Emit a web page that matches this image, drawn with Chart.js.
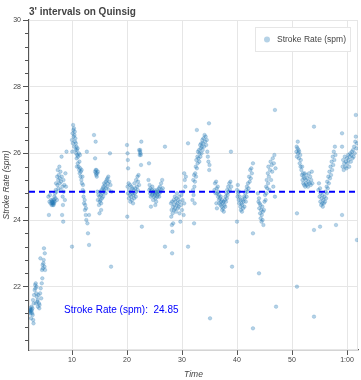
<!DOCTYPE html>
<html><head><meta charset="utf-8">
<script src="https://cdn.jsdelivr.net/npm/chart.js@4.4.1/dist/chart.umd.min.js"></script>
<style>html,body{margin:0;padding:0;background:#fff;}canvas{display:block;}</style>
</head><body>
<canvas id="c" width="361" height="380"></canvas>
<script>
const chartTitle = "3' intervals on Quinsig";
const seriesName = "Stroke Rate (spm)";
const xTitle = "Time";
const yTitle = "Stroke Rate (spm)";
const meanRate = 24.85;
const meanLabel = "Stroke Rate (spm):  24.85";
const meanLabelAt = [8.55, 21.3];
const xRange = [2.18, 62.0];
const yRange = [20.1, 30];
const xTickValues = [10, 20, 30, 40, 50, 60];
const xTickLabels = ['10', '20', '30', '40', '50', '1:00'];
const yMajorTicks = [22, 24, 26, 28, 30];
const yMinorStep = 0.4;

// [time (min), stroke rate (spm)]
const warmup = [[2.3,21.3],[2.35,21.25],[2.4,21.35],[2.45,21.2],[2.5,21.3],[2.55,21.05],[2.6,21.25],[2.65,21.4],[2.7,21.3],[2.75,21.2],[2.8,21.35],[2.85,21.15],[2.9,21.6],[2.95,21.0],[3.0,20.9],[3.05,21.5],[3.1,21.75],[3.2,21.9],[3.3,22.05],[3.35,21.95],[3.4,22.1],[3.45,21.5],[3.5,21.8],[3.55,22.0],[3.6,21.7],[3.7,21.55],[3.75,21.6],[3.8,21.4],[3.9,21.75],[4.0,21.5],[4.05,21.35],[4.1,21.45],[4.2,21.8],[4.25,22.85],[4.3,21.95],[4.4,21.65],[4.5,22.1],[4.55,22.5],[4.6,22.25],[4.65,22.65],[4.7,22.55],[4.8,22.7],[4.85,22.8],[4.9,23.15],[5.0,22.6],[5.05,23.0],[5.1,22.5]];
const piece1 = [[5.7,24.7],[5.8,24.15],[5.9,24.55],[6.0,24.75],[6.1,24.5],[6.2,24.6],[6.3,24.45],[6.35,24.55],[6.4,24.5],[6.45,24.6],[6.5,24.45],[6.55,24.5],[6.6,24.55],[6.65,24.45],[6.7,24.6],[6.75,24.5],[6.8,24.7],[6.85,24.55],[6.9,24.8],[7.0,24.65],[7.05,24.9],[7.1,25.1],[7.2,24.85],[7.25,24.6],[7.3,25.3],[7.35,25.05],[7.4,25.5],[7.5,25.2],[7.55,24.95],[7.6,25.35],[7.7,25.6],[7.75,25.1],[7.8,25.25],[7.9,25.45],[7.95,24.9],[8.0,25.15],[8.1,25.9],[8.15,25.3],[8.2,24.15],[8.25,25.0],[8.3,24.7],[8.35,24.45],[8.4,23.95],[8.45,25.2],[8.5,24.85],[8.6,25.05],[8.7,24.6],[8.8,25.4],[8.9,25.0],[9.0,26.05]];
const piece2 = [[10.0,26.4],[10.05,26.05],[10.1,26.6],[10.15,26.3],[10.2,26.85],[10.25,26.7],[10.3,26.5],[10.35,26.75],[10.4,26.2],[10.45,26.55],[10.5,26.65],[10.55,26.35],[10.6,26.45],[10.65,26.1],[10.7,26.3],[10.75,26.0],[10.8,26.2],[10.85,25.85],[10.9,26.1],[10.9,25.6],[10.95,25.95],[11.0,26.15],[11.05,25.7],[11.1,25.9],[11.2,25.6],[11.25,26.0],[11.3,25.5],[11.35,25.75],[11.4,25.4],[11.45,25.95],[11.5,25.55],[11.55,25.3],[11.6,25.45],[11.7,25.2],[11.75,25.5],[11.8,25.1],[11.9,25.3],[11.95,24.9],[12.0,25.05],[12.1,24.7],[12.15,24.85],[12.2,24.5],[12.3,24.6],[12.35,24.3],[12.4,24.45],[12.5,24.15],[12.55,24.35],[12.6,24.0],[12.7,26.05],[12.8,23.9],[12.9,23.6],[13.1,23.25],[13.1,24.15],[10.0,23.2]];
const piece3 = [[14.0,26.55],[14.3,26.35],[14.2,25.85],[14.2,25.45],[14.3,25.5],[14.35,25.4],[14.4,25.35],[14.45,25.5],[14.5,25.3],[14.6,25.4],[14.7,25.45],[14.6,24.85],[14.7,24.6],[14.8,24.75],[14.9,24.45],[15.0,24.7],[15.0,24.2],[15.05,24.55],[15.1,24.85],[15.2,24.6],[15.25,24.75],[15.3,24.5],[15.3,24.3],[15.4,24.9],[15.45,24.65],[15.5,24.8],[15.6,24.95],[15.65,24.7],[15.7,25.0],[15.8,24.85],[15.85,25.1],[15.9,24.9],[16.0,25.05],[16.1,24.8],[16.15,25.15],[16.2,24.95],[16.3,25.2],[16.4,25.0],[16.45,25.25],[16.5,25.1],[16.6,25.3],[16.7,24.9],[16.8,25.15],[16.9,26.0],[17.0,25.05],[17.2,24.85]];
const piece4 = [[20.0,26.25],[20.1,26.0],[20.15,25.8],[20.2,25.55],[20.05,24.1],[20.1,25.0],[20.2,24.8],[20.3,25.1],[20.35,24.65],[20.4,24.9],[20.5,24.75],[20.55,25.05],[20.6,24.55],[20.7,24.85],[20.75,24.7],[20.8,25.0],[20.9,24.6],[20.95,24.8],[21.0,24.95],[21.1,24.5],[21.15,24.75],[21.2,24.9],[21.3,24.65],[21.35,25.1],[21.4,24.8],[21.5,24.95],[21.6,24.7],[21.65,25.2],[21.7,24.85],[21.8,25.0],[21.9,25.3],[21.95,24.9],[22.0,25.15],[22.1,25.35],[22.2,25.05],[22.2,26.1],[22.3,25.95],[22.35,26.05],[22.4,26.1],[22.45,26.0],[22.5,25.95],[22.55,25.65],[22.6,26.35],[22.7,23.8]];
const piece5 = [[23.9,25.2],[24.0,25.7],[24.05,24.9],[24.1,25.05],[24.2,24.8],[24.25,24.95],[24.3,24.7],[24.35,24.4],[24.4,24.85],[24.5,24.9],[24.55,24.75],[24.6,25.0],[24.7,24.8],[24.75,24.6],[24.8,24.85],[24.9,24.7],[25.0,24.9],[25.05,24.75],[25.1,24.8],[25.15,24.45],[25.2,24.65],[25.25,24.85],[25.3,24.55],[25.4,24.8],[25.5,24.7],[25.55,24.9],[25.6,24.75],[25.7,24.85],[25.8,24.95],[25.85,24.7],[25.9,24.8],[26.0,25.0],[26.1,24.85],[26.2,25.1],[26.3,24.9],[26.4,25.2],[26.5,24.95],[26.9,26.2],[26.9,23.2],[28.2,23.0]];
const piece6 = [[28.0,24.5],[28.05,24.1],[28.1,24.3],[28.15,23.85],[28.2,24.55],[28.25,23.65],[28.3,24.2],[28.35,24.4],[28.4,23.9],[28.5,24.6],[28.55,24.3],[28.6,24.45],[28.7,24.7],[28.75,24.35],[28.8,24.55],[28.9,24.25],[29.0,24.65],[29.05,24.45],[29.1,24.8],[29.2,24.5],[29.25,24.35],[29.3,24.6],[29.4,24.4],[29.5,24.7],[29.55,24.2],[29.6,24.55],[29.7,23.95],[29.8,24.45],[29.9,24.75],[30.0,24.3],[30.1,24.6],[30.2,24.85],[30.3,24.15],[30.4,24.5],[30.4,25.4],[30.5,25.2],[30.6,25.0],[30.7,25.3],[31.1,26.3],[31.1,23.2]];
const piece7 = [[31.9,24.6],[32.0,24.9],[32.05,25.2],[32.1,24.75],[32.2,25.35],[32.2,23.9],[32.25,25.0],[32.3,24.5],[32.35,25.15],[32.4,25.4],[32.5,25.6],[32.55,25.3],[32.6,25.8],[32.7,26.7],[32.7,25.55],[32.8,25.9],[32.85,25.7],[32.9,26.05],[33.0,25.85],[33.1,26.1],[33.15,25.75],[33.2,26.0],[33.3,26.25],[33.35,25.9],[33.4,26.15],[33.5,26.3],[33.55,26.0],[33.6,26.2],[33.7,26.4],[33.75,26.1],[33.8,26.3],[33.9,26.45],[34.0,26.2],[34.1,26.55],[34.2,26.35],[34.3,26.5],[34.4,26.25],[34.5,26.4],[34.6,26.05],[34.7,25.9],[34.8,25.75],[34.9,26.9],[34.95,25.5],[35.0,25.65],[35.1,21.05]];
const piece8 = [[35.9,24.9],[36.0,25.1],[36.1,24.8],[36.2,25.15],[36.25,24.5],[36.3,24.95],[36.35,24.35],[36.4,24.8],[36.5,25.0],[36.55,24.7],[36.6,24.85],[36.7,24.6],[36.75,24.75],[36.8,24.5],[36.9,24.65],[37.0,24.45],[37.05,24.7],[37.1,24.55],[37.2,24.4],[37.25,24.6],[37.3,24.3],[37.4,24.5],[37.5,24.35],[37.55,24.55],[37.6,24.25],[37.7,24.45],[37.8,24.6],[37.85,24.4],[37.9,24.7],[38.0,24.55],[38.1,24.8],[38.15,24.65],[38.2,24.9],[38.3,24.75],[38.4,25.0],[38.5,24.85],[38.6,25.1],[38.7,24.9],[38.8,25.15],[38.9,26.05],[38.95,25.0],[39.1,22.6]];
const piece9 = [[40.0,24.9],[40.1,24.7],[40.15,25.05],[40.2,24.8],[40.3,24.6],[40.35,24.85],[40.4,24.5],[40.5,24.7],[40.6,24.4],[40.65,24.6],[40.7,24.3],[40.8,24.5],[40.9,24.25],[40.95,24.45],[41.0,24.6],[41.1,24.35],[41.2,24.55],[41.3,24.7],[41.35,24.4],[41.4,24.65],[41.5,24.8],[41.6,24.55],[41.7,24.9],[41.75,24.7],[41.8,25.0],[41.9,24.85],[42.0,25.1],[42.1,24.95],[42.2,25.3],[42.3,25.15],[42.4,25.5],[42.5,25.25],[42.6,25.55],[42.7,25.4],[42.9,25.7],[40.0,23.95],[40.0,23.35],[42.9,23.6],[42.9,20.75]];
const piece10 = [[43.8,24.8],[43.9,24.55],[44.0,24.65],[44.05,24.35],[44.1,24.5],[44.2,24.2],[44.25,24.45],[44.3,24.05],[44.4,24.3],[44.45,23.95],[44.5,24.15],[44.6,24.4],[44.65,24.0],[44.7,24.25],[44.8,23.85],[44.9,24.3],[45.0,24.55],[45.1,24.75],[45.2,24.6],[45.3,25.0],[45.35,24.8],[45.4,25.2],[45.5,24.95],[45.6,25.4],[45.65,25.1],[45.7,25.6],[45.8,25.3],[45.9,24.9],[46.0,25.5],[46.1,25.75],[46.2,25.2],[46.3,25.65],[46.4,25.45],[46.5,25.85],[46.6,25.0],[46.7,25.7],[46.8,25.95],[46.9,24.7],[47.0,25.55],[47.1,21.4],[44.0,22.4],[46.9,27.3]];
const piece11 = [[50.8,26.05],[50.85,26.2],[50.9,25.9],[51.0,26.15],[51.05,26.35],[51.1,26.0],[51.2,26.1],[51.25,25.85],[51.3,26.05],[51.4,25.7],[51.5,25.95],[51.55,25.6],[51.6,25.8],[51.7,25.5],[51.8,25.35],[51.85,25.6],[51.9,25.2],[52.0,25.4],[52.05,25.1],[52.1,25.3],[52.2,25.05],[52.25,25.25],[52.3,25.4],[52.4,25.0],[52.5,25.2],[52.55,25.1],[52.6,25.35],[52.7,25.05],[52.8,25.25],[52.9,25.0],[53.0,25.15],[53.1,25.4],[53.2,25.1],[53.3,25.3],[53.4,25.05],[53.5,25.2],[53.6,25.45],[53.7,25.1],[54.0,26.8],[50.9,24.2],[54.0,23.7],[50.9,22.0],[54.0,21.1]];
const piece12 = [[54.8,24.9],[54.9,25.1],[55.0,24.7],[55.1,24.95],[55.15,24.55],[55.2,24.8],[55.3,24.45],[55.4,24.65],[55.5,24.5],[55.55,24.75],[55.6,24.4],[55.7,24.6],[55.8,24.5],[55.9,24.7],[56.0,24.55],[56.1,24.85],[56.2,24.65],[56.3,25.0],[56.35,24.8],[56.4,25.15],[56.5,24.95],[56.6,25.3],[56.7,25.1],[56.8,25.45],[56.9,25.25],[57.0,25.6],[57.1,25.35],[57.2,25.75],[57.3,25.5],[57.4,25.9],[57.5,25.65],[57.6,26.05],[57.7,25.8],[57.8,26.2],[57.9,25.95],[55.1,23.8],[58.0,23.85],[59.1,24.15],[59.1,26.6],[59.1,26.2]];
const piece13 = [[59.2,25.6],[59.3,25.8],[59.4,25.5],[59.5,25.7],[59.6,25.9],[59.7,25.6],[59.8,25.75],[59.9,25.55],[60.0,25.85],[60.1,25.7],[60.2,25.95],[60.3,25.8],[60.4,25.6],[60.5,25.9],[60.6,26.0],[60.7,25.75],[60.8,25.95],[60.9,26.05],[61.0,25.85],[61.1,26.1],[61.2,25.9],[61.3,26.2],[61.4,26.0],[61.5,26.35],[61.6,26.5],[61.7,26.15],[61.8,26.3],[61.6,27.15],[61.8,23.4],[17.1,22.6]];

const pieces = [warmup, piece1, piece2, piece3, piece4, piece5, piece6, piece7, piece8, piece9, piece10, piece11, piece12, piece13];
const strokePoints = [].concat(...pieces).map(p => ({x: p[0], y: p[1]}));

const FONT = "'Liberation Sans', Arial, Helvetica, sans-serif";
const TEXT = '#444444';
const AXIS = '#555555';
const GRID = '#e6e6e6';
const DOT_FILL = 'rgba(31,119,180,0.33)';
const DOT_EDGE = 'rgba(31,119,180,0.38)';

const extras = {
  id: 'extras',
  beforeDraw(chart) {
    const {ctx, width, height} = chart;
    ctx.save(); ctx.fillStyle = '#fff'; ctx.fillRect(0, 0, width, height); ctx.restore();
  },
  beforeDatasetsDraw(chart) {
    const {ctx, chartArea: a} = chart;
    ctx.save();
    ctx.strokeStyle = GRID; ctx.lineWidth = 1;
    ctx.strokeRect(a.left + 0.5, a.top + 0.5, a.right - a.left - 1, a.bottom - a.top - 1);
    ctx.restore();
  },
  afterDraw(chart) {
    const {ctx, chartArea: a, scales} = chart;
    const ys = scales.y, xs = scales.x;
    ctx.save();
    ctx.strokeStyle = AXIS; ctx.lineWidth = 1;
    const k0 = Math.ceil(yRange[0] / yMinorStep - 1e-9), k1 = Math.floor(yRange[1] / yMinorStep + 1e-9);
    for (let k = k0; k <= k1; k++) {
      const v = Math.round(k * yMinorStep * 10) / 10;
      if (yMajorTicks.includes(v)) continue;
      const py = Math.round(ys.getPixelForValue(v)) + 0.5;
      ctx.beginPath(); ctx.moveTo(a.left - 4, py); ctx.lineTo(a.left, py); ctx.stroke();
    }
    ctx.fillStyle = '#0000ff';
    ctx.font = '10px ' + FONT;
    ctx.textBaseline = 'middle'; ctx.textAlign = 'left';
    ctx.fillText(meanLabel, xs.getPixelForValue(meanLabelAt[0]), ys.getPixelForValue(meanLabelAt[1]));
    const lw = 96, lh = 25;
    const lx = a.right - 7 - lw, ly = a.top + 7;
    ctx.fillStyle = 'rgba(255,255,255,0.95)';
    ctx.fillRect(lx, ly, lw, lh);
    ctx.strokeStyle = GRID; ctx.lineWidth = 1;
    ctx.strokeRect(lx + 0.5, ly + 0.5, lw - 1, lh - 1);
    ctx.beginPath(); ctx.arc(lx + 12, ly + lh / 2, 3, 0, Math.PI * 2);
    ctx.fillStyle = DOT_FILL; ctx.fill();
    ctx.fillStyle = TEXT; ctx.font = '8.5px ' + FONT;
    ctx.fillText(seriesName, lx + 22, ly + lh / 2 + 0.5);
    ctx.fillStyle = TEXT; ctx.font = 'bold 10px ' + FONT;
    ctx.fillText(chartTitle, a.left, 12);
    ctx.restore();
  }
};

new Chart(document.getElementById('c'), {
  type: 'scatter',
  data: {
    datasets: [
      {
        type: 'line', label: 'mean',
        data: [{x: xRange[0], y: meanRate}, {x: xRange[1], y: meanRate}],
        borderColor: '#0000ff', borderWidth: 2, borderDash: [6, 4],
        pointRadius: 0, fill: false, order: 0
      },
      {
        label: seriesName, data: strokePoints,
        backgroundColor: DOT_FILL, borderColor: DOT_EDGE, borderWidth: 0.5,
        pointRadius: 1.8, pointHoverRadius: 1.8, order: 1
      }
    ]
  },
  plugins: [extras],
  options: {
    responsive: false, animation: false, devicePixelRatio: 1,
    layout: {padding: {left: 0, right: 3, top: 20, bottom: 0}},
    plugins: {legend: {display: false}, tooltip: {enabled: false}, title: {display: false}},
    scales: {
      x: {
        type: 'linear', min: xRange[0], max: xRange[1],
        afterFit: s => { s.height = 30; },
        afterBuildTicks: s => { s.ticks = xTickValues.map(v => ({value: v})); },
        ticks: {
          autoSkip: false, maxRotation: 0, padding: 1,
          color: TEXT, font: {family: FONT, size: 7},
          callback: v => xTickLabels[xTickValues.indexOf(v)] ?? ''
        },
        grid: {color: GRID, lineWidth: 1, tickColor: AXIS, tickLength: 5, drawTicks: true},
        border: {display: true, color: AXIS, width: 1.3},
        title: {display: true, text: xTitle, color: TEXT, padding: {top: 3, bottom: 0},
                font: {family: FONT, size: 8.5, style: 'italic'}}
      },
      y: {
        type: 'linear', min: yRange[0], max: yRange[1],
        afterFit: s => { s.width = 29; },
        afterBuildTicks: s => { s.ticks = yMajorTicks.map(v => ({value: v})); },
        ticks: {
          autoSkip: false, padding: 2,
          color: TEXT, font: {family: FONT, size: 7},
          callback: v => String(v)
        },
        grid: {color: GRID, lineWidth: 1, tickColor: AXIS, tickLength: 6, drawTicks: true},
        border: {display: true, color: AXIS, width: 1.3},
        title: {display: true, text: yTitle, color: TEXT, padding: {top: 2, bottom: 0},
                font: {family: FONT, size: 8.5, style: 'italic'}}
      }
    }
  }
});
</script>
</body></html>
